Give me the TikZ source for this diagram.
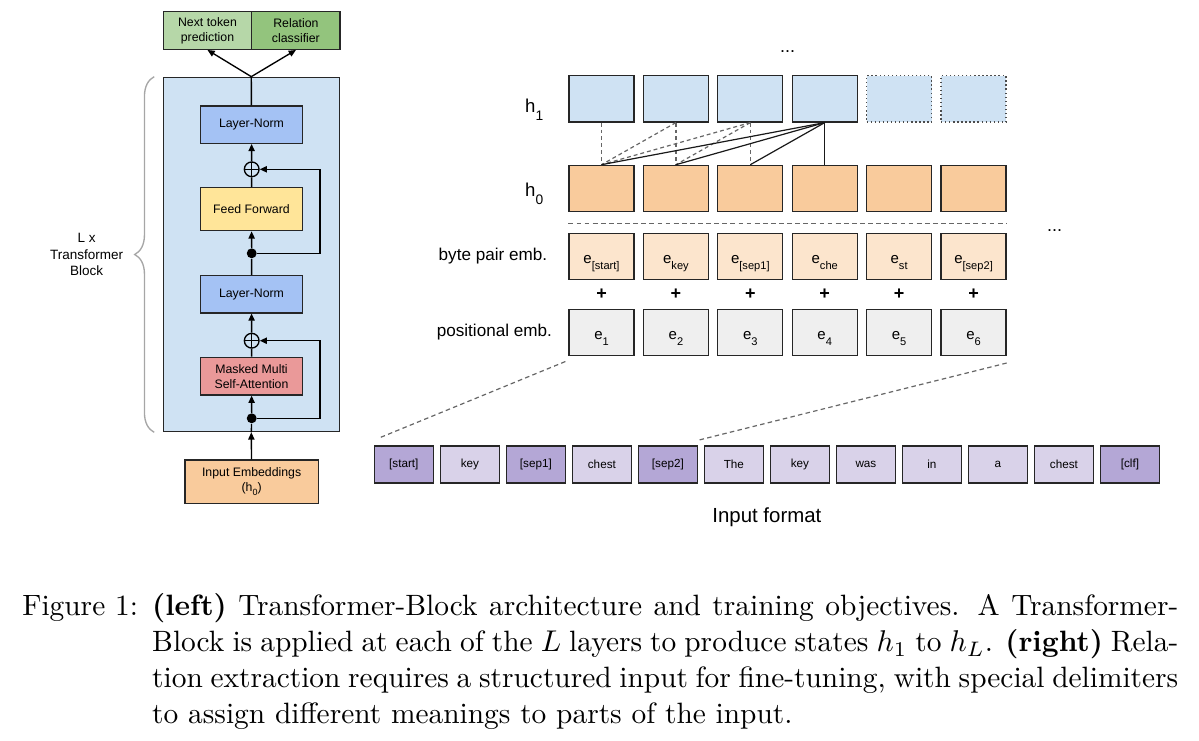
\documentclass[tikz,border=0pt]{standalone}
\usepackage{fontspec}
\newfontfamily\diafont{Liberation Sans}
\usetikzlibrary{positioning,calc}
\usetikzlibrary{arrows.meta}
\usetikzlibrary{decorations.pathreplacing}

\definecolor{outA}{HTML}{B6D7A8}
\definecolor{outB}{HTML}{93C47D}
\definecolor{tbblue}{HTML}{CFE2F3}
\definecolor{normc}{HTML}{A4C2F4}
\definecolor{ffc}{HTML}{FFE599}
\definecolor{attc}{HTML}{EA9999}
\definecolor{embc}{HTML}{F9CB9C}
\definecolor{bpec}{HTML}{FCE5CD}
\definecolor{posc}{HTML}{EFEFEF}
\definecolor{tokspec}{HTML}{B4A7D6}
\definecolor{tokword}{HTML}{D9D2E9}

\newcommand{\lblfont}{\diafont\fontsize{4.1pt}{5pt}\selectfont}
\newcommand{\esub}[1]{e\raisebox{-2pt}{\fontsize{3.7pt}{4pt}\selectfont #1}}
\newcommand{\hsub}[1]{h\raisebox{-2.9pt}{\fontsize{4.6pt}{5pt}\selectfont #1}}

\tikzset{
  blockbox/.style={draw=black!85, line width=0.45pt, fill=tbblue,
    minimum width=58.67pt, minimum height=118.1pt, inner sep=0pt},
  layerbox/.style={draw=black!85, line width=0.45pt, minimum width=34.13pt,
    minimum height=12.43pt, inner sep=0pt, align=center, font=\lblfont},
  outbox/.style={layerbox, minimum width=29.47pt, minimum height=12.53pt},
  cellbox/.style={draw=black!85, line width=0.4pt, minimum width=21.67pt,
    minimum height=15.4pt, inner sep=0pt, text height=6pt, text depth=1pt,
    font=\diafont\fontsize{5pt}{6pt}\selectfont},
  ghostcell/.style={cellbox, draw=black!70, dash pattern=on 0.45pt off 0.9pt},
  tokbox/.style={draw=black!85, line width=0.4pt, minimum width=19.57pt,
    minimum height=12.33pt, inner sep=0pt,
    font=\diafont\fontsize{3.9pt}{4.5pt}\selectfont},
  flow/.style={line width=0.45pt, -{Triangle[length=2.4pt,width=2.1pt]}},
  plainflow/.style={line width=0.45pt},
  sumdot/.style={circle, fill=black, inner sep=0pt, minimum size=3.3pt},
  oplusnode/.style={circle, draw, line width=0.45pt, inner sep=0pt,
    minimum size=4.9pt, path picture={
      \draw[line width=0.45pt] (path picture bounding box.north) -- (path picture bounding box.south)
        (path picture bounding box.west) -- (path picture bounding box.east);}},
  link/.style={line width=0.4pt, draw=black!90},
  dashlink/.style={line width=0.4pt, draw=black!60, dash pattern=on 1.3pt off 1pt},
  zoomline/.style={line width=0.4pt, draw=black!60, dash pattern=on 1.5pt off 1.1pt},
  bracegray/.style={draw=black!35, line width=0.45pt, decorate,
    decoration={brace, amplitude=6.5pt}},
  hlabel/.style={font=\diafont\fontsize{6.2pt}{7pt}\selectfont, inner sep=0pt,
    text height=4.5pt, text depth=3.2pt},
  rowlabel/.style={font=\diafont\fontsize{5.7pt}{6pt}\selectfont, inner sep=0pt},
  plusmark/.style={font=\diafont\bfseries\fontsize{6pt}{6pt}\selectfont, inner sep=0pt},
  moredots/.style={font=\diafont\fontsize{6pt}{6pt}\selectfont, inner sep=0pt},
  captext/.style={text width=385.3pt, inner sep=0pt, align=justify,
    font=\fontsize{9.8pt}{12pt}\selectfont},
}

\begin{document}
\begin{tikzpicture}[x=0.3333pt, y=-0.3333pt]
   \useasboundingbox (0,0) rectangle (1199,740);

   % transformer block
   \node[blockbox] (tb) at (251.3,254.5) {};
   \node[outbox, fill=outA] (o1) at (207.5,30.5) {Next token\\prediction};
   \node[outbox, fill=outB, right=-0.45pt of o1] (o2) {Relation\\classifier};

   \node[layerbox, fill=normc] (ln2) at (251.5,124.65) {Layer-Norm};
   \node[oplusnode] (s1) at (251.7,169.3) {};
   \node[layerbox, fill=ffc, minimum height=14.33pt] (ff) at (251.5,209.2) {Feed Forward};
   \node[sumdot] (d1) at (251.7,253.3) {};
   \node[layerbox, fill=normc] (ln1) at (251.5,294.2) {Layer-Norm};
   \node[oplusnode] (s2) at (251.7,340.7) {};
   \node[layerbox, fill=attc, minimum height=12.57pt] (att) at (251.5,376.15)
      {Masked Multi\\Self-Attention};
   \node[sumdot] (d2) at (251.7,418.3) {};

   \node[layerbox, fill=embc, minimum width=44.43pt, minimum height=14.43pt]
      (inp) at (251.65,481.65) {Input Embeddings\\(h\raisebox{-1.2pt}{\fontsize{3pt}{3pt}\selectfont 0})};

   \draw[flow] (inp) -- (tb.south);
   \draw[plainflow] (tb.south) -- (d2);
   \draw[flow] (d2) -- (att);
   \draw[plainflow] (att) -- (s2);
   \draw[flow] (s2) -- (ln1);
   \draw[flow] (d2) -- ++(22.77pt,0) |- (s2);
   \draw[plainflow] (ln1) -- (d1);
   \draw[flow] (d1) -- (ff);
   \draw[plainflow] (ff) -- (s1);
   \draw[flow] (s1) -- (ln2);
   \draw[flow] (d1) -- ++(22.77pt,0) |- (s1);
   \draw[plainflow] (ln2) -- (tb.north);
   \draw[flow] (tb.north) -- (o1.south);
   \draw[flow] (tb.north) -- (o2.south);

   % L x brace
   \draw[bracegray] ($(tb.south west)+(-2.8pt,0)$) -- ($(tb.north west)+(-2.8pt,0)$);
   \node[align=center, inner sep=0pt, font=\diafont\fontsize{4.5pt}{5.5pt}\selectfont]
      (lx) at ($(tb.west)+(-25.3pt,0)$) {L x\\Transformer\\Block};

   % h1 states
   \node[cellbox, fill=tbblue] (h11) at (601.5,98.9) {};
   \node[cellbox, fill=tbblue, right=2.73pt of h11] (h12) {};
   \node[cellbox, fill=tbblue, right=2.73pt of h12] (h13) {};
   \node[cellbox, fill=tbblue, right=2.73pt of h13] (h14) {};
   \node[ghostcell, fill=tbblue, right=2.73pt of h14] (h15) {};
   \node[ghostcell, fill=tbblue, right=2.73pt of h15] (h16) {};

   % h0 states
   \node[cellbox, fill=embc, below=14.03pt of h11] (h01) {};
   \node[cellbox, fill=embc, below=14.03pt of h12] (h02) {};
   \node[cellbox, fill=embc, below=14.03pt of h13] (h03) {};
   \node[cellbox, fill=embc, below=14.03pt of h14] (h04) {};
   \node[cellbox, fill=embc, below=14.03pt of h15] (h05) {};
   \node[cellbox, fill=embc, below=14.03pt of h16] (h06) {};

   % byte pair emb.
   \node[cellbox, fill=bpec, below=6.8pt of h01] (b1) {\esub{[start]}};
   \node[cellbox, fill=bpec, below=6.8pt of h02] (b2) {\esub{key}};
   \node[cellbox, fill=bpec, below=6.8pt of h03] (b3) {\esub{[sep1]}};
   \node[cellbox, fill=bpec, below=6.8pt of h04] (b4) {\esub{che}};
   \node[cellbox, fill=bpec, below=6.8pt of h05] (b5) {\esub{st}};
   \node[cellbox, fill=bpec, below=6.8pt of h06] (b6) {\esub{[sep2]}};

   % positional emb.
   \node[cellbox, fill=posc, below=9.6pt of b1] (p1) {\esub{1}};
   \node[cellbox, fill=posc, below=9.6pt of b2] (p2) {\esub{2}};
   \node[cellbox, fill=posc, below=9.6pt of b3] (p3) {\esub{3}};
   \node[cellbox, fill=posc, below=9.6pt of b4] (p4) {\esub{4}};
   \node[cellbox, fill=posc, below=9.6pt of b5] (p5) {\esub{5}};
   \node[cellbox, fill=posc, below=9.6pt of b6] (p6) {\esub{6}};

   \node[plusmark] (pl1) at ($(b1.south)!0.5!(p1.north)$) {+};
   \node[plusmark] (pl2) at ($(b2.south)!0.5!(p2.north)$) {+};
   \node[plusmark] (pl3) at ($(b3.south)!0.5!(p3.north)$) {+};
   \node[plusmark] (pl4) at ($(b4.south)!0.5!(p4.north)$) {+};
   \node[plusmark] (pl5) at ($(b5.south)!0.5!(p5.north)$) {+};
   \node[plusmark] (pl6) at ($(b6.south)!0.5!(p6.north)$) {+};

   % row labels
   \node[hlabel, left=8.2pt of h11, yshift=-3.75pt] (lh1) {\hsub{1}};
   \node[hlabel, left=8.2pt of h01, yshift=-1.95pt] (lh0) {\hsub{0}};
   \node[rowlabel, left=6.9pt of b1] (lb) {byte pair emb.};
   \node[rowlabel, left=5.3pt of p1] (lp) {positional emb.};

   \node[moredots] (dt1) at ($(h13.north east)!0.5!(h14.north west)+(0,8pt)$) {...};
   \node[moredots] (dt2) at ($(b6.north east)+(16pt,0.8pt)$) {...};

   % separator
   \draw[dashlink, dash pattern=on 1.6pt off 1.1pt]
      ($(h01.south west)+(0,-3.9pt)$) -- ($(h06.south east)+(0,-3.9pt)$);

   % attention links
   \draw[dashlink] (h11.south) -- (h01.north);
   \draw[dashlink] (h12.south) -- (h01.north);
   \draw[dashlink] (h12.south) -- (h02.north);
   \draw[dashlink] (h13.south) -- (h01.north);
   \draw[dashlink] (h13.south) -- (h02.north);
   \draw[dashlink] (h13.south) -- (h03.north);
   \draw[link] (h14.south) -- (h01.north);
   \draw[link] (h14.south) -- (h02.north);
   \draw[link] (h14.south) -- (h03.north);
   \draw[link] (h14.south) -- (h04.north);

   % input format
   \node[tokbox, fill=tokspec] (t1) at (403.85,464.5) {[start]};
   \node[tokbox, fill=tokword, right=2.03pt of t1] (t2) {key};
   \node[tokbox, fill=tokspec, right=2.03pt of t2] (t3) {[sep1]};
   \node[tokbox, fill=tokword, right=2.03pt of t3] (t4) {chest};
   \node[tokbox, fill=tokspec, right=2.03pt of t4] (t5) {[sep2]};
   \node[tokbox, fill=tokword, right=2.03pt of t5] (t6) {The};
   \node[tokbox, fill=tokword, right=2.03pt of t6] (t7) {key};
   \node[tokbox, fill=tokword, right=2.03pt of t7] (t8) {was};
   \node[tokbox, fill=tokword, right=2.03pt of t8] (t9) {in};
   \node[tokbox, fill=tokword, right=2.03pt of t9] (t10) {a};
   \node[tokbox, fill=tokword, right=2.03pt of t10] (t11) {chest};
   \node[tokbox, fill=tokspec, right=2.03pt of t11] (t12) {[clf]};

   \coordinate (imid) at ($(t6.south east)!0.5!(t7.south west)$);
   \node[inner sep=0pt, font=\diafont\fontsize{6.8pt}{7pt}\selectfont, below=7.9pt of imid]
      (ifmt) {Input format};

   \draw[zoomline] ($(p1.south west)+(-1pt,-1.8pt)$) -- ($(t1.north west)+(1.3pt,2.3pt)$);
   \draw[zoomline] ($(p6.south east)+(0,-2.3pt)$) -- ($(t5.north east)!0.5!(t6.north west)+(-1pt,1.7pt)$);

   % caption
   \node[captext, anchor=north west] (cap) at (21.7,592.9) {\noindent\hangindent=43.3pt\hangafter=1
      \makebox[43.3pt][l]{Figure 1:}\textbf{(left)} Transformer-Block architecture and
      training objectives. A Transformer-\linebreak Block is applied at each of the $L$
      layers to produce states $h_1$ to $h_L$. \textbf{(right)} Rela-\linebreak tion
      extraction requires a structured input for fine-tuning, with special
      delimiters\linebreak{} to assign different meanings to parts of the input.\par};
\end{tikzpicture}
\end{document}
